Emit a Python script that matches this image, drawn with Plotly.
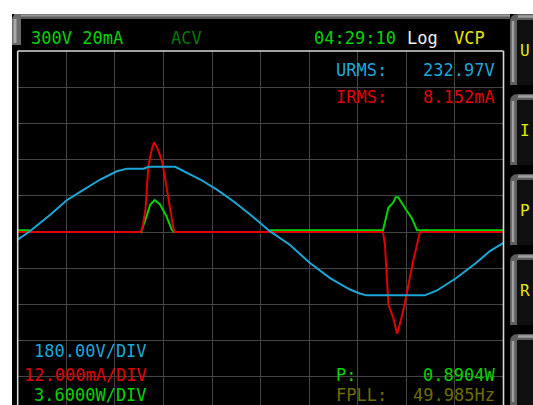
import plotly.graph_objects as go

MS_PER_DIV = 2.0      # time base
V_PER_DIV = 180.0     # voltage channel
MA_PER_DIV = 12.0     # current channel
W_PER_DIV = 3.6       # power channel

time_volt_ms = [0, 0.46, 1.34, 2.02, 2.72, 3.40, 4.08, 4.50, 5.18, 5.40, 6.48, 6.84, 7.52,
                8.20, 8.88, 9.58, 10.38, 11.20, 12.02, 12.86, 13.68, 14.08, 14.36, 16.76,
                17.24, 18.06, 18.88, 19.44, 20.0]
voltage_V = [-38, 0, 86, 158, 211, 261, 302, 315, 315, 324, 324, 302, 261,
             211, 153, 86, 4, -63, -153, -229, -286, -306, -315, -315,
             -292, -229, -153, -95, -54]

time_curr_ms = [0, 5.04, 5.12, 5.26, 5.38, 5.52, 5.62, 5.80, 5.96, 6.14, 6.30, 6.42, 6.48,
                15.04, 15.12, 15.26, 15.46, 15.62, 15.80, 15.94, 16.28, 16.56, 20]
current_mA = [0, 0, 0.8, 7.4, 21.8, 27.4, 29.8, 26.8, 22.9, 14.0, 6.4, 0.8, 0,
              0, -4.2, -24.0, -28.4, -33.7, -28.4, -23.5, -9.7, 0, 0]

time_pow_ms = [0, 0.46, 0.48, 5.08, 5.26, 5.46, 5.64, 5.86, 6.12, 6.34, 6.44, 10.38, 10.40,
               15.04, 15.26, 15.46, 15.56, 15.66, 15.94, 16.22, 16.44, 20]
power_W = [0.18, 0.18, 0, 0, 1.26, 2.74, 3.17, 2.74, 1.58, 0.25, 0, 0, 0.18,
           0.18, 2.41, 2.92, 3.46, 3.46, 2.41, 1.40, 0.18, 0.18]

header_left = "300V 20mA"
header_mode = "ACV"
header_time = "04:29:10"
header_log = "Log"
header_vcp = "VCP"
meas_labels = ["URMS:", "IRMS:", "P:", "FPLL:"]
meas_values = ["232.97V", "8.152mA", "0.8904W", "49.985Hz"]
scale_labels = ["180.00V/DIV", "12.000mA/DIV", "3.6000W/DIV"]
softkeys = ["U", "I", "P", "R", ""]

# ---------------- layout geometry (pixels) ----------------
W, H = 533, 405
PX_L, PX_R, PX_T = 17.7, 503.5, 51.0
DIV_PX_Y = 36.2
N_DIV_X = 10
Y_TOP_DIV = 5.0
Y_BOT_DIV = Y_TOP_DIV - (H - PX_T) / DIV_PX_Y

def px(x):
    return x / W

def py(y):
    return 1 - y / H

C_BLUE = "#1BA7D8"
C_RED = "#E00000"
C_GREEN = "#00D400"
C_DKGREEN = "#007A00"
C_YELLOW = "#E6E600"
C_OLIVE = "#6E6E00"
FONT = "DejaVu Sans Mono"
FS = 17

fig = go.Figure()
# layer order follows axis order: y (power) bottom, y2 (current), y3 (voltage) top
fig.add_trace(go.Scatter(x=time_pow_ms, y=power_W, yaxis="y", mode="lines",
                         line=dict(color=C_GREEN, width=2), hoverinfo="skip"))
fig.add_trace(go.Scatter(x=time_curr_ms, y=current_mA, yaxis="y2", mode="lines",
                         line=dict(color=C_RED, width=2), hoverinfo="skip"))
fig.add_trace(go.Scatter(x=time_volt_ms, y=voltage_V, yaxis="y3", mode="lines",
                         line=dict(color=C_BLUE, width=2), hoverinfo="skip"))

dom_x = [px(PX_L), px(PX_R)]
dom_y = [0, py(PX_T)]
hidden = dict(showticklabels=False, ticks="", zeroline=False, showline=False)

fig.update_layout(
    width=W, height=H, autosize=False,
    margin=dict(l=0, r=0, t=0, b=0, pad=0),
    paper_bgcolor="white", plot_bgcolor="black",
    showlegend=False,
    xaxis=dict(domain=dom_x, range=[0, N_DIV_X * MS_PER_DIV], dtick=MS_PER_DIV,
               showgrid=True, gridcolor="#444444", gridwidth=1.3, **hidden),
    yaxis=dict(domain=dom_y, range=[Y_BOT_DIV * W_PER_DIV, Y_TOP_DIV * W_PER_DIV],
               dtick=W_PER_DIV, tick0=0,
               showgrid=True, gridcolor="#444444", gridwidth=1.3, **hidden),
    yaxis2=dict(domain=dom_y, overlaying="y", range=[Y_BOT_DIV * MA_PER_DIV, Y_TOP_DIV * MA_PER_DIV],
                showgrid=False, **hidden),
    yaxis3=dict(domain=dom_y, overlaying="y", range=[Y_BOT_DIV * V_PER_DIV, Y_TOP_DIV * V_PER_DIV],
                showgrid=False, **hidden),
)

shapes = []
# black instrument screen
shapes.append(dict(type="rect", xref="paper", yref="paper", layer="below",
                   x0=px(12), x1=px(W + 5), y0=py(H + 5), y1=py(14),
                   fillcolor="black", line=dict(width=0)))
# top gray bevel
shapes.append(dict(type="rect", xref="paper", yref="paper",
                   x0=px(14), x1=px(510), y0=py(19), y1=py(14),
                   fillcolor="#5a5a5a", line=dict(width=0)))
shapes.append(dict(type="line", xref="paper", yref="paper",
                   x0=px(14), x1=px(510), y0=py(15.5), y1=py(15.5),
                   line=dict(color="#9a9a9a", width=2)))
# top-left rounded bevel
r = 6
path = (f"M {px(12)},{py(45)} L {px(12)},{py(14 + r)} Q {px(12)},{py(14)} {px(12 + r)},{py(14)} "
        f"L {px(21)},{py(14)} L {px(21)},{py(45)} Z")
shapes.append(dict(type="path", xref="paper", yref="paper", path=path,
                   fillcolor="#6a6a6a", line=dict(width=0)))
shapes.append(dict(type="line", xref="paper", yref="paper",
                   x0=px(15), x1=px(15), y0=py(43), y1=py(19),
                   line=dict(color="#a8a8a8", width=3)))

# softkey buttons on the right
for i, lab in enumerate(softkeys):
    top = 14 + 80 * i
    bot = top + 71
    r = 8
    path = (f"M {px(510)},{py(bot)} L {px(510)},{py(top + r)} Q {px(510)},{py(top)} {px(510 + r)},{py(top)} "
            f"L {px(540)},{py(top)} L {px(540)},{py(bot)} Z")
    shapes.append(dict(type="path", xref="paper", yref="paper", path=path,
                       fillcolor="#5e5e5e", line=dict(width=0)))
    shapes.append(dict(type="rect", xref="paper", yref="paper",
                       x0=px(517), x1=px(540), y0=py(bot), y1=py(top + 6),
                       fillcolor="#0f0f0f", line=dict(width=0)))
    shapes.append(dict(type="line", xref="paper", yref="paper",
                       x0=px(513), x1=px(513), y0=py(bot - 3), y1=py(top + 7),
                       line=dict(color="#a0a0a0", width=2.5)))
    shapes.append(dict(type="line", xref="paper", yref="paper",
                       x0=px(518), x1=px(540), y0=py(top + 2.5), y1=py(top + 2.5),
                       line=dict(color="#a0a0a0", width=2.5)))

# plot frame (left, top, right)
frame = dict(color="#d8d8d8", width=1.6)
shapes.append(dict(type="line", xref="paper", yref="paper", x0=px(PX_L), x1=px(PX_L),
                   y0=py(H + 5), y1=py(PX_T), line=frame))
shapes.append(dict(type="line", xref="paper", yref="paper", x0=px(PX_R), x1=px(PX_R),
                   y0=py(H + 5), y1=py(PX_T), line=frame))
shapes.append(dict(type="line", xref="paper", yref="paper", x0=px(PX_L), x1=px(PX_R),
                   y0=py(PX_T), y1=py(PX_T), line=frame))
fig.update_layout(shapes=shapes)

ann = []

def text(s, x, y, color, anchor="left", size=FS):
    ann.append(dict(text=s, x=px(x), y=py(y), xref="paper", yref="paper",
                    xanchor=anchor, yanchor="middle", showarrow=False,
                    font=dict(family=FONT, size=size, color=color)))

text(header_left, 29, 38, C_GREEN)
text(header_mode, 169, 38, C_DKGREEN)
text(header_time, 312, 38, C_GREEN)
text(header_log, 405, 38, "#f0f0f0")
text(header_vcp, 452, 38, C_YELLOW)

meas_colors = [C_BLUE, C_RED, C_GREEN, C_OLIVE]
meas_y = [70, 97, 375, 395]
for lab, val, c, yy in zip(meas_labels, meas_values, meas_colors, meas_y):
    text(lab, 334, yy, c)
    text(val, 497, yy, c, anchor="right")

scale_colors = [C_BLUE, C_RED, C_GREEN]
scale_y = [351, 375, 395]
for lab, c, yy in zip(scale_labels, scale_colors, scale_y):
    text(lab, 149, yy, c, anchor="right")

for i, lab in enumerate(softkeys):
    if lab:
        text(lab, 532, 50 + 80 * i, C_YELLOW, anchor="right", size=16)

fig.update_layout(annotations=ann)

fig.write_html("out.html", config={"displayModeBar": False},
               post_script="document.body.style.margin='0';")
